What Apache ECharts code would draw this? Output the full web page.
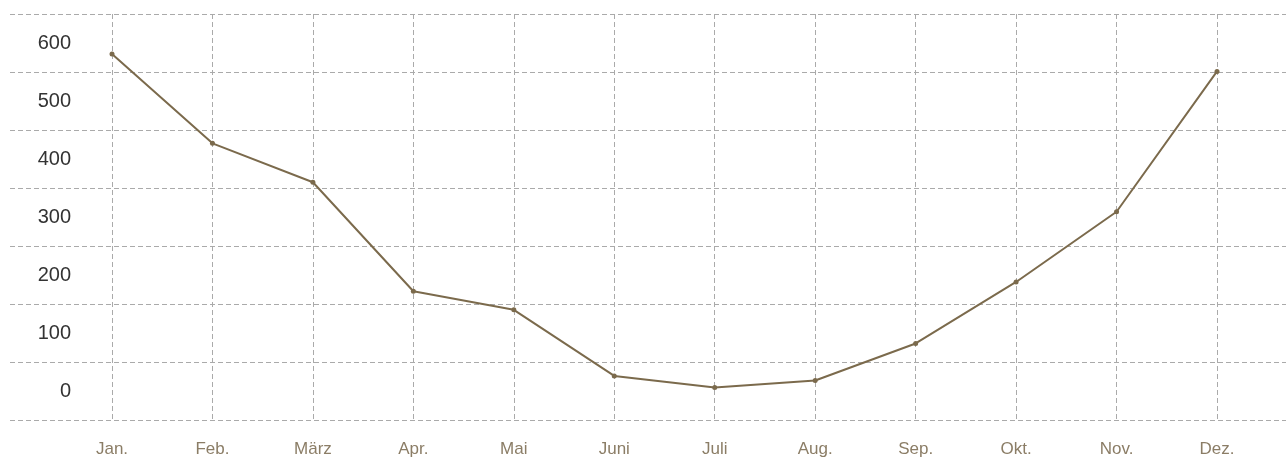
<!DOCTYPE html>
<html>
<head>
<meta charset="utf-8">
<script src="https://cdn.jsdelivr.net/npm/echarts@6/dist/echarts.min.js"></script>
<style>
  html, body { margin: 0; padding: 0; background: #fff; }
  #chart { width: 1286px; height: 460px; }
</style>
</head>
<body>
<div id="chart"></div>
<script>
// Monatswerte
const months = ['Jan.', 'Feb.', 'März', 'Apr.', 'Mai', 'Juni', 'Juli', 'Aug.', 'Sep.', 'Okt.', 'Nov.', 'Dez.']
const values = [581, 427, 360, 172, 140, 26, 6, 18, 82, 188, 309, 551]
const yLabels = [0, 100, 200, 300, 400, 500, 600]

const gridColor = '#aaaaaa'
const lineColor = '#7b6a4c'
const dash = { type: [5, 3], color: gridColor, width: 1 }

const chart = echarts.init(document.getElementById('chart'))
chart.setOption({
  animation: false,
  grid: [
    // Datenbereich (vertikale Linien je Monat)
    { left: 112, right: 69, top: 14, bottom: 40 },
    // horizontale Linien über die ganze Breite
    { left: 10, right: 0, top: 14, bottom: 40 },
  ],
  xAxis: [
    {
      gridIndex: 0, type: 'category', data: months, boundaryGap: false,
      axisLine: { show: false }, axisTick: { show: false },
      splitLine: { show: true, lineStyle: dash },
      axisLabel: { color: '#8b7d66', fontSize: 17, fontFamily: 'Liberation Sans', margin: 21 },
    },
    { gridIndex: 1, type: 'value', show: false },
  ],
  yAxis: [
    {
      // Beschriftung: Werte liegen mittig zwischen den Gitterlinien
      gridIndex: 0, type: 'value', min: -50, max: 650, interval: 50,
      axisLine: { show: false }, axisTick: { show: false }, splitLine: { show: false },
      axisLabel: {
        color: '#333', fontSize: 20, fontFamily: 'Liberation Sans', margin: 41,
        formatter: (v) => (yLabels.includes(v) ? String(v) : ''),
      },
    },
    {
      gridIndex: 1, type: 'value', min: 0, max: 700, interval: 100,
      axisLine: { show: false }, axisTick: { show: false }, axisLabel: { show: false },
      splitLine: { show: true, lineStyle: dash },
    },
  ],
  series: [{
    type: 'line', xAxisIndex: 0, yAxisIndex: 0, data: values,
    symbol: 'circle', symbolSize: 5, showSymbol: true,
    lineStyle: { color: lineColor, width: 2 }, itemStyle: { color: lineColor },
  }],
})
</script>
</body>
</html>
